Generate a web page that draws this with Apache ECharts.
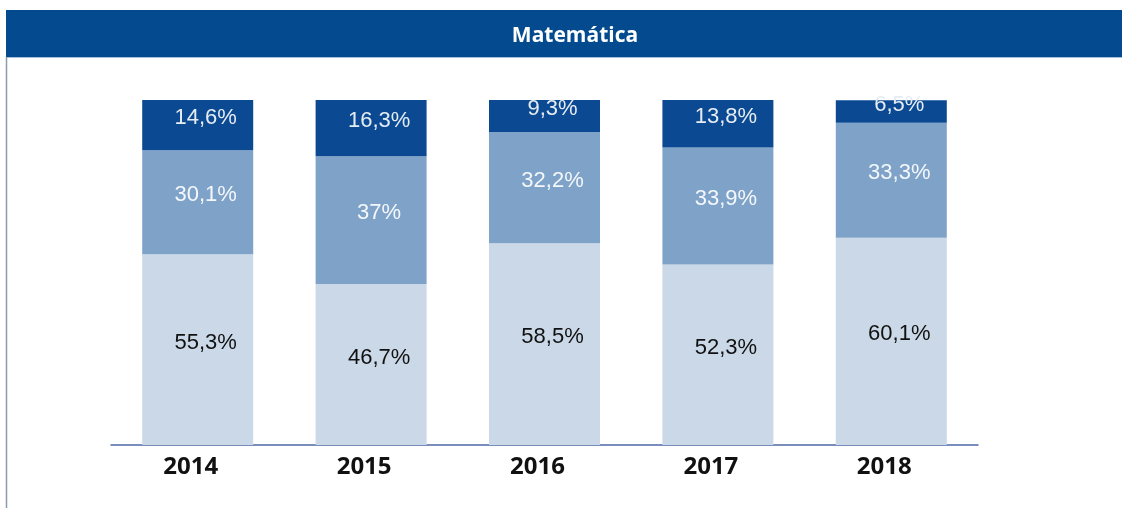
<!DOCTYPE html>
<html>
<head>
<meta charset="utf-8">
<script src="https://cdn.jsdelivr.net/npm/echarts@6/dist/echarts.min.js"></script>
<style>
  html, body { margin: 0; padding: 0; background: #fff; }
  #chart { width: 1122px; height: 508px; }
</style>
</head>
<body>
<div id="chart"></div>
<script>
const years = ["2014", "2015", "2016", "2017", "2018"];
const baixo = [55.3, 46.7, 58.5, 52.3, 60.1];
const medio = [30.1, 37, 32.2, 33.9, 33.3];
const alto = [14.6, 16.3, 9.3, 13.8, 6.5];

const fmt = (p) => String(p.value).replace(".", ",") + "%";

const labelBase = {
  show: true,
  position: "inside",
  offset: [8, -7],
  fontFamily: "Liberation Sans, Arial, sans-serif",
  fontSize: 22,
  formatter: fmt,
};

const chart = echarts.init(document.getElementById("chart"));
chart.setOption({
  animation: false,
  title: {
    text: "Matemática",
    left: 570,
    top: 21,
    textAlign: "center",
    textStyle: {
      color: "#ffffff",
      fontFamily: "Open Sans",
      fontWeight: "bold",
      fontSize: 21,
    },
  },
  graphic: [
    {
      type: "rect",
      z: -1,
      shape: { x: 6, y: 10, width: 1116, height: 47 },
      style: { fill: "#034b8e" },
    },
    {
      type: "line",
      z: -1,
      shape: { x1: 6, y1: 57.5, x2: 1122, y2: 57.5 },
      style: { stroke: "#a9bfd8", lineWidth: 1 },
    },
    {
      type: "line",
      z: -1,
      shape: { x1: 6.5, y1: 57, x2: 6.5, y2: 508 },
      style: { stroke: "#8b9bb0", lineWidth: 1.5 },
    },
  ],
  grid: { left: 111, right: 144, top: 100, bottom: 63 },
  xAxis: {
    type: "category",
    data: years,
    axisTick: { show: false },
    axisLine: { lineStyle: { color: "#4d6aa6", width: 1.5 } },
    axisLabel: {
      margin: 10,
      padding: [0, 14, 0, 0],
      color: "#111111",
      fontFamily: "Open Sans",
      fontWeight: "bold",
      fontSize: 24,
    },
  },
  yAxis: { type: "value", min: 0, max: 100, show: false },
  series: [
    {
      name: "baixo",
      type: "bar",
      stack: "total",
      barWidth: 111,
      data: baixo,
      itemStyle: { color: "#cad8e7" },
      label: Object.assign({}, labelBase, { color: "#111111" }),
    },
    {
      name: "medio",
      type: "bar",
      stack: "total",
      data: medio,
      itemStyle: { color: "#7fa3c8" },
      label: Object.assign({}, labelBase, { color: "#f4f7fb" }),
    },
    {
      name: "alto",
      type: "bar",
      stack: "total",
      data: alto,
      itemStyle: { color: "#0b4a92" },
      label: Object.assign({}, labelBase, { color: "#e6ecf3" }),
    },
  ],
});
</script>
</body>
</html>
